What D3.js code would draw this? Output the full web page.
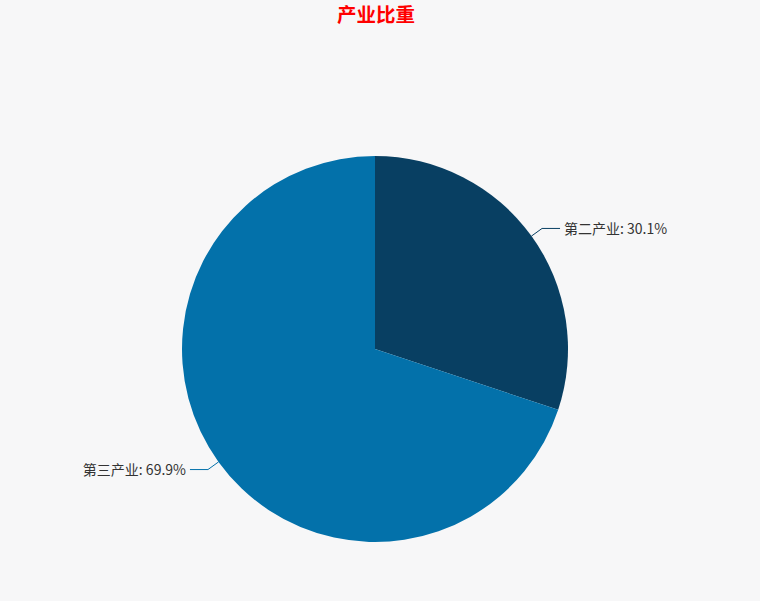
<!DOCTYPE html>
<html>
<head>
<meta charset="utf-8">
<script src="https://cdn.jsdelivr.net/npm/d3@7"></script>
<style>
  html, body { margin: 0; padding: 0; background: #f7f7f8; }
</style>
</head>
<body>
<script>
var width = 760, height = 601;

var categories = ["第二产业", "第三产业"];
var shares = [30.1, 69.9];
var colors = ["#083f62", "#0371aa"];

var data = categories.map(function(c, i) { return {name: c, value: shares[i]}; });

var svg = d3.select("body").append("svg")
  .attr("width", width)
  .attr("height", height)
  .style("display", "block")
  .style("font-family", "'Noto Sans CJK SC', 'Microsoft YaHei', sans-serif");

svg.append("rect").attr("width", width).attr("height", height).attr("fill", "#f7f7f8");

// title
svg.append("text")
  .attr("x", 376)
  .attr("y", 22)
  .attr("text-anchor", "middle")
  .style("font-size", "19.5px")
  .style("font-weight", 700)
  .style("fill", "#ff0000")
  .text("产业比重");

var cx = 375, cy = 349, r = 193;

var pie = d3.pie().sort(null).value(function(d) { return d.value; });
var arc = d3.arc().innerRadius(0).outerRadius(r);

var g = svg.append("g").attr("transform", "translate(" + cx + "," + cy + ")");

var arcs = pie(data);

g.selectAll("path.slice").data(arcs).enter()
  .append("path")
  .attr("class", "slice")
  .attr("d", arc)
  .attr("fill", function(d, i) { return colors[i]; });

// label lines: radial segment then horizontal
arcs.forEach(function(d, i) {
  var mid = (d.startAngle + d.endAngle) / 2;
  var s = Math.sin(mid), c = -Math.cos(mid);
  var p0 = [r * s, r * c];
  var p1 = [(r + 13) * s, (r + 13) * c];
  var dir = s >= 0 ? 1 : -1;
  var p2 = [p1[0] + dir * 18, p1[1]];
  g.append("polyline")
    .attr("points", [p0, p1, p2].map(function(p) { return p.join(","); }).join(" "))
    .attr("fill", "none")
    .attr("stroke", colors[i])
    .attr("stroke-width", 1);
  g.append("text")
    .attr("x", p2[0] + dir * 4)
    .attr("y", p2[1] + 1)
    .attr("dy", "0.35em")
    .attr("text-anchor", dir > 0 ? "start" : "end")
    .style("font-size", "14px")
    .style("fill", "#333")
    .text(d.data.name + ": " + d.data.value.toFixed(1) + "%");
});
</script>
</body>
</html>
